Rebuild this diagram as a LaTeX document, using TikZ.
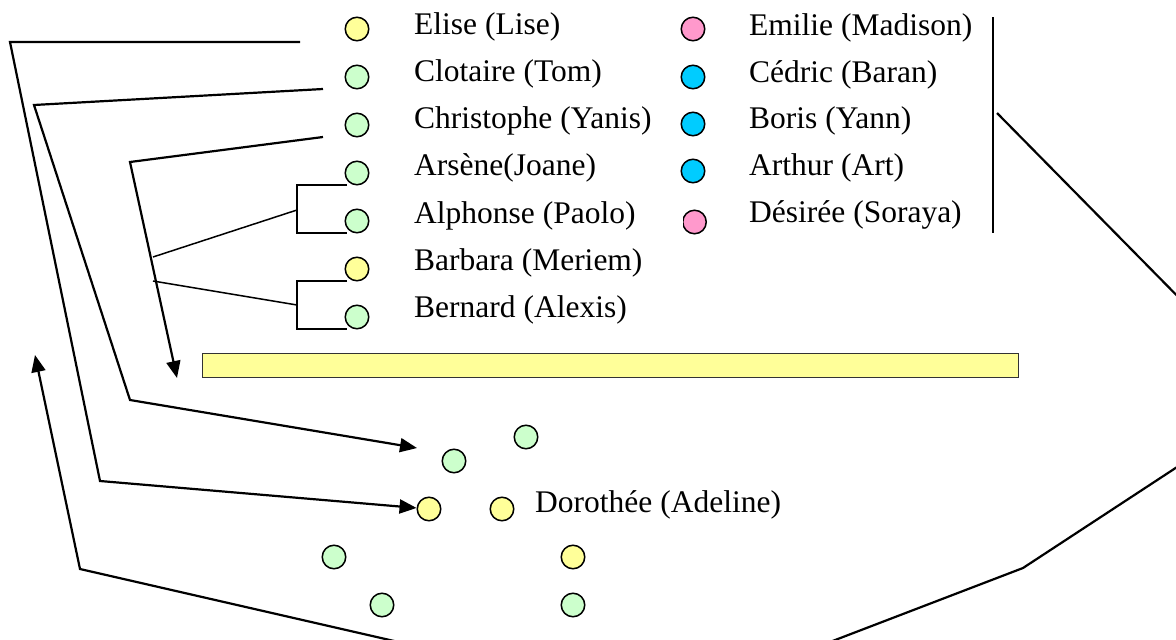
\documentclass[tikz,border=0pt]{standalone}
\usepackage{fontspec}
\setmainfont{Liberation Serif}
\usetikzlibrary{arrows.meta}
\definecolor{cyel}{HTML}{FFFF99}
\definecolor{cgrn}{HTML}{CCFFCC}
\definecolor{cpnk}{HTML}{FF99CC}
\definecolor{ccyn}{HTML}{00CCFF}
\tikzset{
  dot/.style={circle,draw=black,line width=1.5pt,minimum size=23.5pt,inner sep=0pt},
  lbl/.style={anchor=base west,inner sep=0pt,font=\fontsize{31.5}{36}\selectfont},
  conn/.style={line width=2.2pt,line join=miter},
  tip/.style={-{Triangle[length=17pt,width=14pt]}},
  brk/.style={line width=1.5pt},
}
\begin{document}
\begin{tikzpicture}[x=1pt,y=-1pt]
\useasboundingbox (0,0) rectangle (1176,640);
\clip (0,0) rectangle (1176,640);
% left column
\node[dot,fill=cyel] (l1) at (357,29) {};
\node[dot,fill=cgrn] (l2) at (357,77) {};
\node[dot,fill=cgrn] (l3) at (357,125) {};
\node[dot,fill=cgrn] (l4) at (357,173) {};
\node[dot,fill=cgrn] (l5) at (357,221) {};
\node[dot,fill=cyel] (l6) at (357,269) {};
\node[dot,fill=cgrn] (l7) at (357,317) {};
\node[lbl] (t1) at (414,34) {Elise (Lise)};
\node[lbl] (t2) at (414,81.3) {Clotaire (Tom)};
\node[lbl] (t3) at (414,128.6) {Christophe (Yanis)};
\node[lbl] (t4) at (414,175.9) {Arsène(Joane)};
\node[lbl] (t5) at (414,223.2) {Alphonse (Paolo)};
\node[lbl] (t6) at (414,270.5) {Barbara (Meriem)};
\node[lbl] (t7) at (414,317.8) {Bernard (Alexis)};
% right column
\node[dot,fill=cpnk] (r1) at (693,29) {};
\node[dot,fill=ccyn] (r2) at (693,77) {};
\node[dot,fill=ccyn] (r3) at (693,124) {};
\node[dot,fill=ccyn] (r4) at (693,171) {};
\begin{scope}
\clip (683,200) rectangle (720,245);
\node[dot,fill=cpnk] (r5) at (694.5,222) {};
\end{scope}
\node[lbl] (u1) at (749,35) {Emilie (Madison)};
\node[lbl] (u2) at (749,82) {Cédric (Baran)};
\node[lbl] (u3) at (749,128.5) {Boris (Yann)};
\node[lbl] (u4) at (749,175) {Arthur (Art)};
\node[lbl] (u5) at (749,222) {Désirée (Soraya)};
% yellow bar
\node[draw=black!80,line width=1.3pt,fill=cyel,minimum width=816pt,minimum height=24pt,inner sep=0pt,anchor=north west] (bar) at (202,353) {};
% bottom circles
\node[dot,fill=cgrn] (b1) at (526,437) {};
\node[dot,fill=cgrn] (b2) at (454,461) {};
\node[dot,fill=cyel] (b3) at (429,509) {};
\node[dot,fill=cyel] (b4) at (502,509) {};
\node[dot,fill=cgrn] (b5) at (334,557) {};
\node[dot,fill=cyel] (b6) at (573,557) {};
\node[dot,fill=cgrn] (b7) at (382,605) {};
\node[dot,fill=cgrn] (b8) at (573,605) {};
\node[lbl] (dor) at (535,512) {Dorothée (Adeline)};
% coordinates
\coordinate (a0) at (300,42);
\coordinate (a1) at (10,42);
\coordinate (a2) at (100,481);
\coordinate (bb0) at (323,89);
\coordinate (bb1) at (34,105);
\coordinate (bb2) at (130,400);
\coordinate (bbt) at (417,448);
\coordinate (c0) at (323,137);
\coordinate (c1) at (130,162);
\coordinate (ct) at (177,378);
\coordinate (d0) at (997,113);
\coordinate (d1) at (1200,319);
\coordinate (d2) at (1200,452);
\coordinate (d3) at (1023,568);
\coordinate (d4) at (783,660);
\coordinate (d5) at (477,660);
\coordinate (d6) at (80,569);
\coordinate (dt) at (35,355);
\coordinate (v0) at (993,17);
\coordinate (v1) at (993,233);
\coordinate (k1a) at (347,185);
\coordinate (k1b) at (347,233);
\coordinate (k1m) at (297,210);
\coordinate (k2a) at (347,281);
\coordinate (k2b) at (347,329);
\coordinate (k2m) at (297,305);
\coordinate (j1) at (153,257);
\coordinate (j2) at (153,281);
% connectors
\draw[conn,tip] (a0) -- (a1) -- (a2) -- (b3);
\draw[conn,tip] (bb0) -- (bb1) -- (bb2) -- (bbt);
\draw[conn,tip] (c0) -- (c1) -- (ct);
\draw[conn,tip] (d0) -- (d1) -- (d2) -- (d3) -- (d4) -- (d5) -- (d6) -- (dt);
\draw[brk] (v0) -- (v1);
\draw[brk] (k1a) -| (k1m) |- (k1b);
\draw[brk] (k2a) -| (k2m) |- (k2b);
\draw[brk] (k1m) -- (j1);
\draw[brk] (k2m) -- (j2);
\end{tikzpicture}
\end{document}
